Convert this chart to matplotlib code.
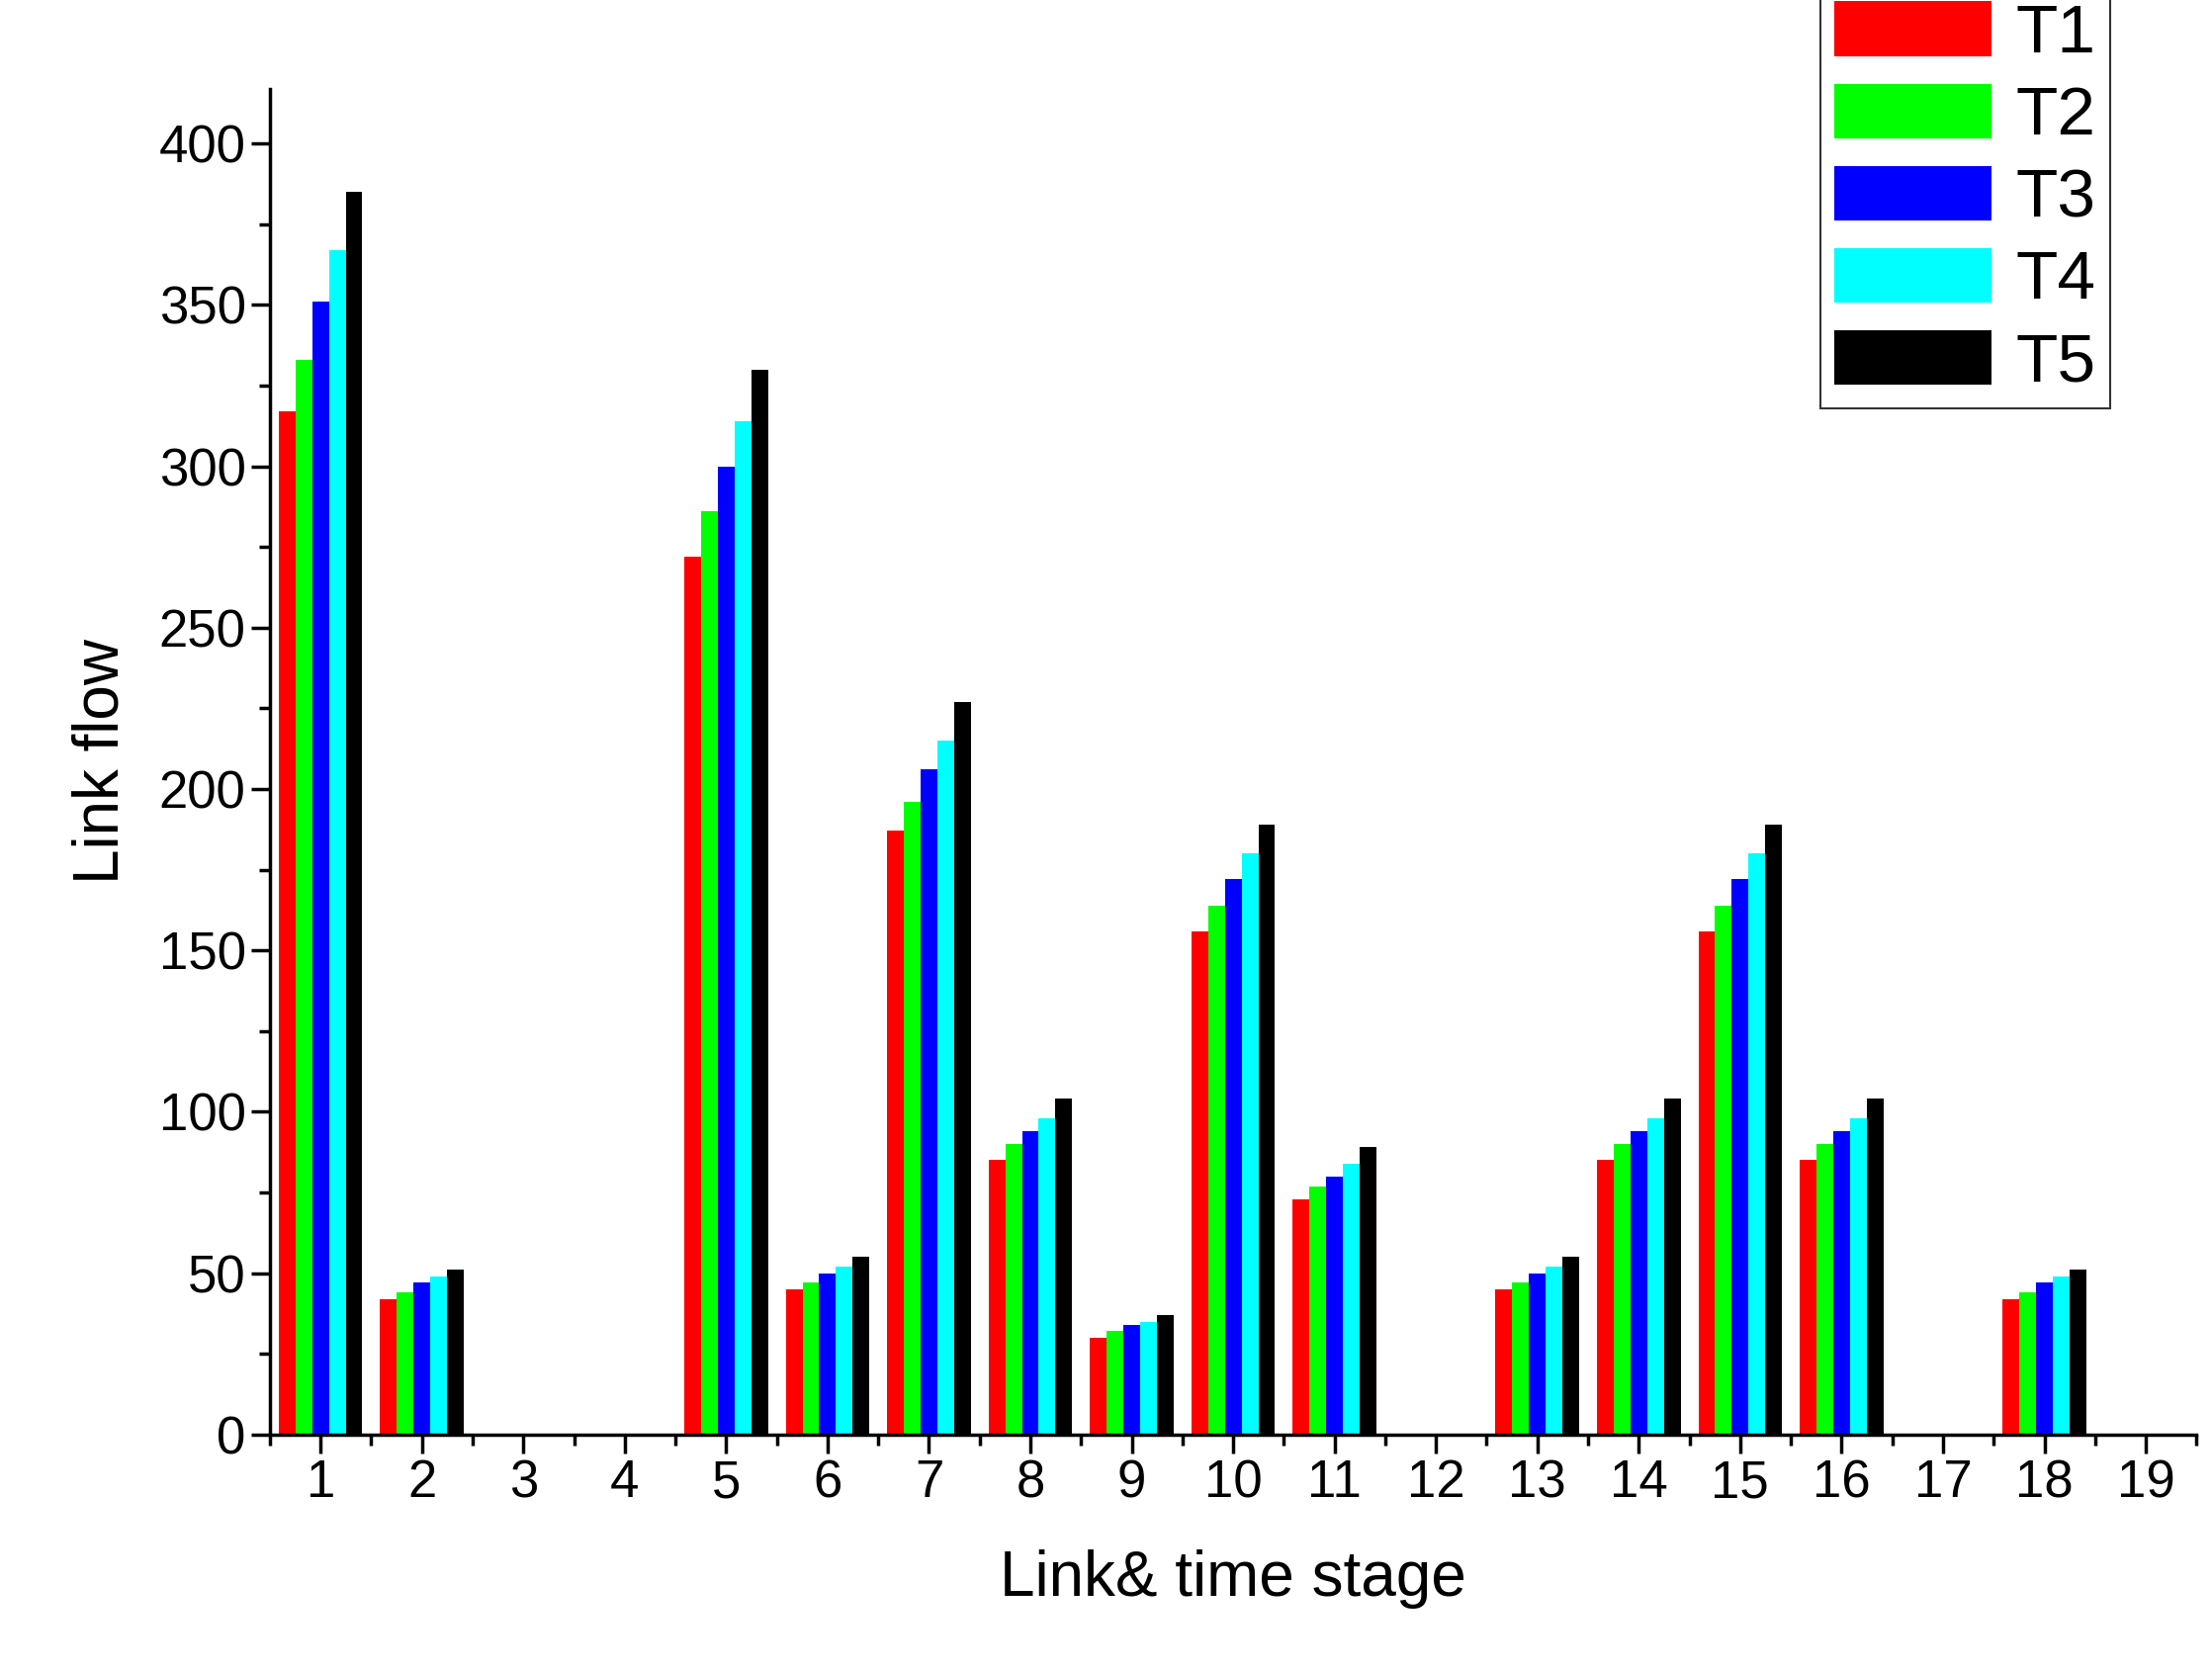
import numpy as np
import matplotlib.pyplot as plt
from matplotlib.ticker import MultipleLocator

plt.rcParams['font.family'] = ['Liberation Sans', 'DejaVu Sans']

links = np.arange(1, 20)
T1 = [317, 42, 0, 0, 272, 45, 187, 85, 30, 156, 73, 0, 45, 85, 156, 85, 0, 42, 0]
T2 = [333, 44, 0, 0, 286, 47, 196, 90, 32, 164, 77, 0, 47, 90, 164, 90, 0, 44, 0]
T3 = [351, 47, 0, 0, 300, 50, 206, 94, 34, 172, 80, 0, 50, 94, 172, 94, 0, 47, 0]
T4 = [367, 49, 0, 0, 314, 52, 215, 98, 35, 180, 84, 0, 52, 98, 180, 98, 0, 49, 0]
T5 = [385, 51, 0, 0, 330, 55, 227, 104, 37, 189, 89, 0, 55, 104, 189, 104, 0, 51, 0]
series = [("T1", T1, "#ff0000"), ("T2", T2, "#00ff00"), ("T3", T3, "#0000ff"),
          ("T4", T4, "#00ffff"), ("T5", T5, "#000000")]

fig = plt.figure(figsize=(22.37, 16.91), dpi=100)
ax = fig.add_axes([0.122, 0.142, 0.871, 0.805])

w = 0.165
for i, (name, vals, col) in enumerate(series):
    ax.bar(links + (i - 2) * w, vals, width=w, color=col, label=name)

ax.set_xlim(0.5, 19.5)
ax.set_ylim(0, 417)
ax.set_xticks(links)
ax.xaxis.set_minor_locator(MultipleLocator(1, offset=0.5))
ax.yaxis.set_major_locator(MultipleLocator(50))
ax.yaxis.set_minor_locator(MultipleLocator(25))
ax.tick_params(axis='both', which='major', labelsize=38, direction='out', length=14, width=2.5)
ax.tick_params(axis='both', which='minor', direction='out', length=8, width=2.5)
for s in ['top', 'right']:
    ax.spines[s].set_visible(False)
for s in ['left', 'bottom']:
    ax.spines[s].set_linewidth(2.5)

ax.set_xlabel("Link& time stage", fontsize=46, labelpad=30)
ax.set_ylabel("Link flow", fontsize=46, labelpad=20)

leg = ax.legend(loc='upper right', bbox_to_anchor=(0.955, 1.075), fontsize=50, frameon=True,
                fancybox=False, edgecolor='black', handlelength=2.3, handleheight=0.85,
                labelspacing=0.25, borderpad=0.2, handletextpad=0.35, borderaxespad=0)
leg.get_frame().set_linewidth(1.5)

fig.savefig("out.png", dpi=100)
